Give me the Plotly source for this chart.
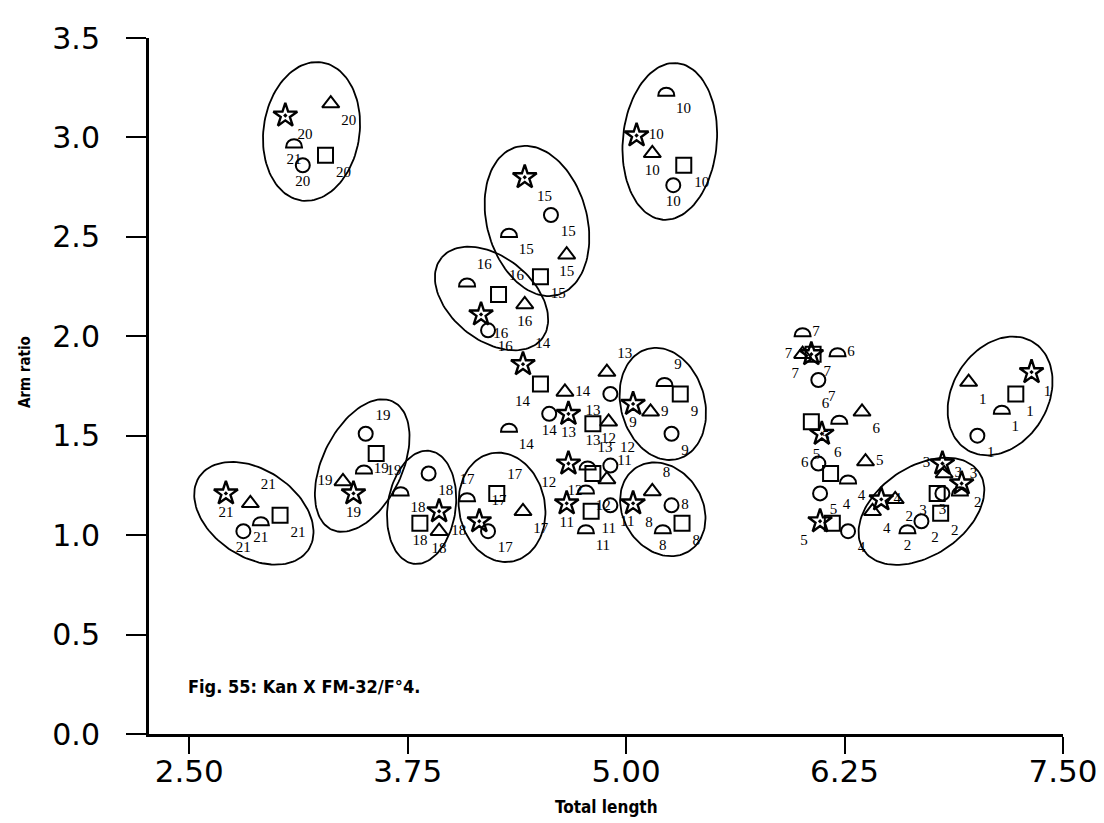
import math
import plotly.graph_objects as go

# group number of each point, one list per marker shape
star_id = [20, 15, 16, 10, 21, 19, 18, 17, 14, 13, 12, 11, 9, 8, 7, 6, 5, 4, 3, 1, 2]
star_x = [3.05, 4.42, 4.17, 5.06, 2.71, 3.44, 3.93, 4.16, 4.41, 4.67, 4.67, 4.66, 5.04, 5.04, 6.06, 6.12, 6.11, 6.46, 6.81, 7.32, 6.92]
star_y = [3.11, 2.80, 2.11, 3.01, 1.21, 1.21, 1.12, 1.07, 1.86, 1.61, 1.36, 1.16, 1.66, 1.16, 1.91, 1.51, 1.07, 1.18, 1.36, 1.82, 1.26]

tri_id = [20, 15, 16, 10, 21, 19, 18, 17, 14, 13, 12, 11, 9, 8, 7, 6, 5, 4, 3, 1, 2]
tri_x = [3.31, 4.66, 4.42, 5.15, 2.85, 3.38, 3.93, 4.41, 4.65, 4.89, 4.90, 4.89, 5.14, 5.15, 6.01, 6.35, 6.37, 6.41, 6.82, 6.96, 6.54]
tri_y = [3.17, 2.41, 2.16, 2.92, 1.16, 1.27, 1.02, 1.12, 1.72, 1.82, 1.57, 1.28, 1.62, 1.22, 1.91, 1.62, 1.37, 1.12, 1.31, 1.77, 1.18]

sq_id = [20, 15, 16, 10, 21, 19, 18, 17, 14, 13, 12, 11, 9, 8, 7, 6, 5, 4, 3, 1, 2]
sq_x = [3.28, 4.51, 4.27, 5.33, 3.02, 3.57, 3.82, 4.26, 4.51, 4.81, 4.81, 4.80, 5.31, 5.32, 6.07, 6.06, 6.17, 6.18, 6.78, 7.23, 6.80]
sq_y = [2.91, 2.30, 2.21, 2.86, 1.10, 1.41, 1.06, 1.21, 1.76, 1.56, 1.31, 1.12, 1.71, 1.06, 1.91, 1.57, 1.31, 1.06, 1.21, 1.71, 1.11]

ci_id = [20, 15, 16, 10, 21, 19, 18, 17, 14, 13, 12, 11, 9, 8, 7, 6, 5, 4, 3, 1, 2]
ci_x = [3.15, 4.57, 4.21, 5.27, 2.81, 3.51, 3.87, 4.21, 4.56, 4.91, 4.91, 4.91, 5.26, 5.26, 6.10, 6.10, 6.11, 6.27, 6.81, 7.01, 6.69]
ci_y = [2.86, 2.61, 2.03, 2.76, 1.02, 1.51, 1.31, 1.02, 1.61, 1.71, 1.35, 1.15, 1.51, 1.15, 1.78, 1.36, 1.21, 1.02, 1.21, 1.50, 1.07]

semi_id = [21, 15, 16, 10, 21, 19, 18, 17, 14, 13, 12, 11, 9, 8, 7, 6, 5, 4, 3, 1, 2]
semi_x = [3.10, 4.33, 4.09, 5.23, 2.91, 3.50, 3.71, 4.09, 4.33, 4.78, 4.77, 4.77, 5.22, 5.21, 6.01, 6.21, 6.22, 6.27, 6.91, 7.15, 6.61]
semi_y = [2.97, 2.52, 2.27, 3.23, 1.07, 1.33, 1.22, 1.19, 1.54, 1.35, 1.23, 1.03, 1.77, 1.03, 2.02, 1.92, 1.58, 1.28, 1.22, 1.63, 1.03]

# ellipses drawn round groups: centre (data), semi-axes (px), tilt (deg, + = top leans right)
ell_cx = [3.20, 4.49, 4.23, 5.25, 2.87, 3.49, 3.83, 4.29, 5.21, 5.21, 7.14, 6.69]
ell_cy = [3.03, 2.58, 2.19, 2.98, 1.11, 1.35, 1.14, 1.14, 1.66, 1.13, 1.70, 1.12]
ell_a = [71, 78, 65, 80, 66, 72, 58, 56, 58, 50, 64, 70]
ell_b = [48, 50, 42, 47, 44, 40, 34, 43, 42, 40, 48, 45]
ell_tilt = [8, -15, -50, 5, -55, 25, 8, -10, -15, -30, 30, 55]

# label placement that differs from the usual lower right
label_side = {
    ("star", 10): "middle right", ("tri", 10): "bottom center", ("ci", 10): "bottom center",
    ("ci", 20): "bottom center", ("tri", 15): "bottom center",
    ("semi", 16): "top right", ("sq", 16): "top right", ("tri", 16): "bottom center",
    ("star", 21): "bottom center", ("tri", 21): "top right", ("semi", 21): "bottom center", ("ci", 21): "bottom center",
    ("ci", 19): "top right", ("semi", 19): "middle right", ("tri", 19): "middle left", ("star", 19): "bottom center",
    ("sq", 18): "bottom center", ("tri", 18): "bottom center",
    ("semi", 17): "top center", ("sq", 17): "top right", ("star", 17): "top right",
    ("star", 14): "top right", ("sq", 14): "bottom left", ("tri", 14): "middle right", ("ci", 14): "bottom center",
    ("tri", 13): "top right", ("ci", 13): "bottom left", ("star", 13): "bottom center", ("sq", 13): "bottom center",
    ("semi", 13): "top right", ("tri", 12): "bottom center", ("star", 12): "bottom left", ("ci", 12): "top right",
    ("sq", 12): "bottom left", ("tri", 11): "top right", ("star", 11): "bottom center",
    ("semi", 9): "top right", ("star", 9): "bottom center", ("tri", 9): "middle right",
    ("tri", 8): "top right", ("ci", 8): "middle right", ("semi", 8): "bottom center",
    ("semi", 7): "middle right", ("tri", 7): "middle left", ("star", 7): "bottom left",
    ("semi", 6): "middle right", ("sq", 6): "top right", ("ci", 6): "middle left", ("semi", 5): "bottom left",
    ("tri", 5): "middle right", ("sq", 5): "top left", ("star", 5): "bottom left",
    ("sq", 4): "top right", ("star", 4): "middle right",
    ("star", 3): "middle left", ("tri", 3): "middle right", ("sq", 3): "bottom left", ("ci", 3): "bottom center",
    ("semi", 3): "top right", ("semi", 2): "bottom center",
}

PX_X = 914 / (7.5 - 2.27)
PX_Y = 708 / 3.5
label_font = dict(family="Liberation Serif, DejaVu Serif, serif", size=15, color="black")

fig = go.Figure()

# ellipses
for cx, cy, a, b, tilt in zip(ell_cx, ell_cy, ell_a, ell_b, ell_tilt):
    th = math.radians(tilt)
    ex, ey = [], []
    for k in range(121):
        t = 2 * math.pi * k / 120
        px = a * math.cos(t) * math.sin(th) + b * math.sin(t) * math.cos(th)
        py = a * math.cos(t) * math.cos(th) - b * math.sin(t) * math.sin(th)
        ex.append(cx + px / PX_X)
        ey.append(cy + py / PX_Y)
    fig.add_trace(go.Scatter(x=ex, y=ey, mode="lines", line=dict(color="black", width=1.8),
                             hoverinfo="skip", showlegend=False))


def add_points(key, ids, xs, ys, symbol, size, width=2):
    pos = [label_side.get((key, i), "bottom right") for i in ids]
    fig.add_trace(go.Scatter(
        x=xs, y=ys, mode="markers+text", text=[str(i) for i in ids], textposition=pos,
        textfont=label_font, showlegend=False,
        marker=dict(symbol=symbol or "circle", size=size, color="black",
                    opacity=1 if symbol else 0, line=dict(color="black", width=width)),
    ))


add_points("star", star_id, star_x, star_y, "star-open-dot", 18, 2.4)
add_points("tri", tri_id, tri_x, tri_y, "triangle-up-open", 15)
add_points("sq", sq_id, sq_x, sq_y, "square-open", 15)
add_points("ci", ci_id, ci_x, ci_y, "circle-open", 14)
add_points("semi", semi_id, semi_x, semi_y, None, 14)

# half-disc markers
for sx, sy in zip(semi_x, semi_y):
    fig.add_shape(type="path", xref="x", yref="y", xsizemode="pixel", ysizemode="pixel",
                  xanchor=sx, yanchor=sy, path="M-8,-4 C-8,6.7 8,6.7 8,-4 Z",
                  line=dict(color="black", width=2))

narrow = "Liberation Sans Narrow, DejaVu Sans Condensed, Arial Narrow, sans-serif"
fig.add_annotation(text="<b>Fig. 55: Kan X FM-32/F°4.</b>", xref="paper", yref="paper",
                   x=0.04, y=0.068, xanchor="left", yanchor="middle", showarrow=False,
                   font=dict(family=narrow, size=18, color="black"))
fig.add_annotation(text="<b>Arm ratio</b>", xref="paper", yref="paper", x=0, y=0.52,
                   xanchor="center", xshift=-124, textangle=-90, showarrow=False,
                   font=dict(family=narrow, size=15, color="black"))
fig.add_annotation(text="<b>Total length</b>", xref="paper", yref="paper", x=0.5, y=-0.105,
                   yanchor="middle", showarrow=False,
                   font=dict(family=narrow, size=17, color="black"))

fig.update_layout(
    width=1104, height=823,
    margin=dict(l=141, r=49, t=18, b=97),
    paper_bgcolor="white", plot_bgcolor="white",
)
fig.update_xaxes(
    range=[2.27, 7.5], tickvals=[2.5, 3.75, 5.0, 6.25, 7.5],
    ticktext=["2.50", "3.75", "5.00", "6.25", "7.50"],
    ticks="outside", ticklen=17, tickwidth=2, tickcolor="black",
    showline=True, linewidth=3, linecolor="black", showgrid=False, zeroline=False,
    tickfont=dict(family="DejaVu Sans, sans-serif", size=31, color="black"),
    ticklabelstandoff=-9,
)
fig.update_yaxes(
    range=[0, 3.5], tickvals=[0, 0.5, 1.0, 1.5, 2.0, 2.5, 3.0, 3.5],
    ticktext=["0.0", "0.5", "1.0", "1.5", "2.0", "2.5", "3.0", "3.5"],
    ticks="outside", ticklen=20, tickwidth=2, tickcolor="black",
    showline=True, linewidth=3, linecolor="black", showgrid=False, zeroline=False,
    tickfont=dict(family="DejaVu Sans, sans-serif", size=30, color="black"),
    ticklabelstandoff=20,
)

fig.write_html("out.html")
